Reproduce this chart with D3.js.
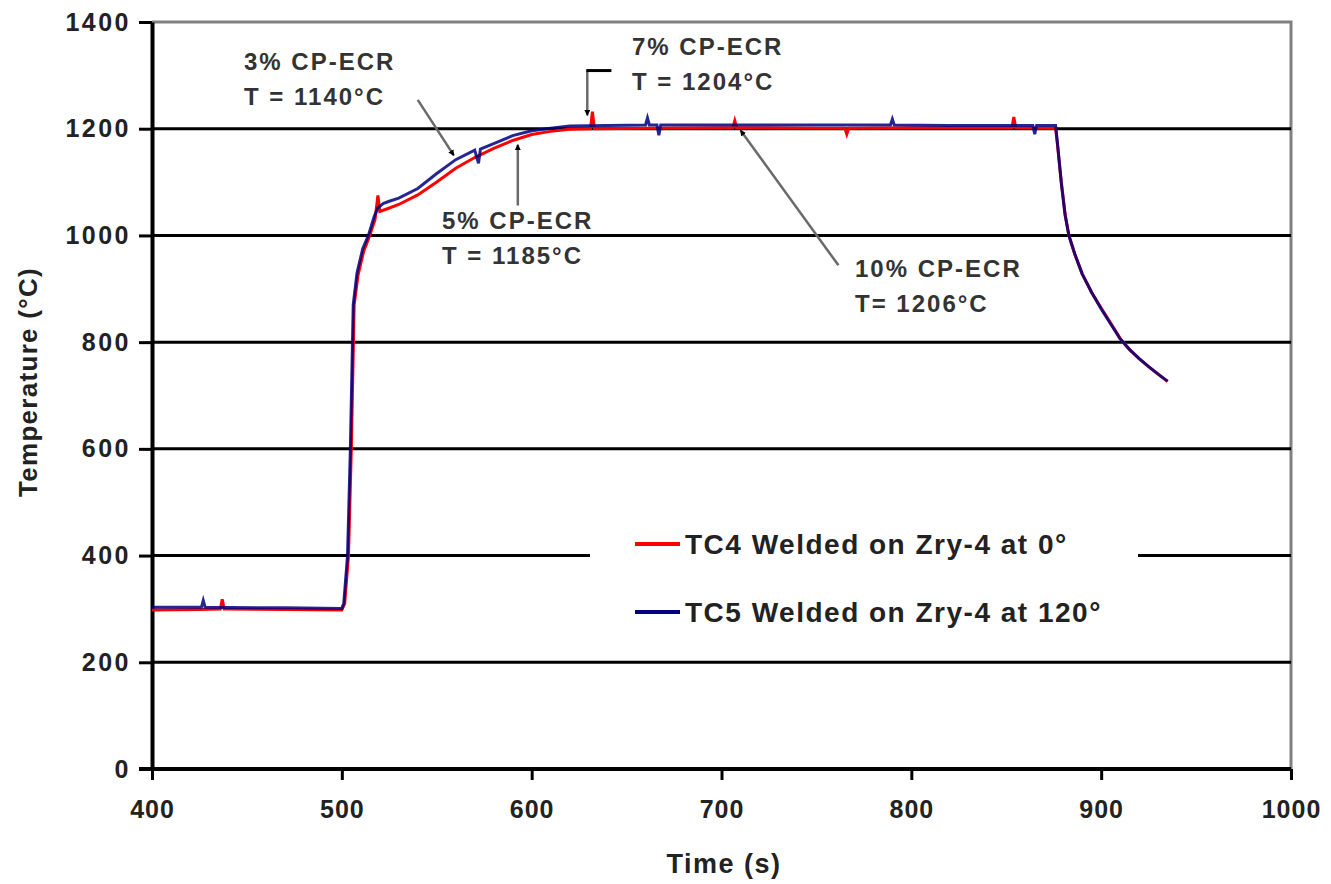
<!DOCTYPE html>
<html>
<head>
<meta charset="utf-8">
<script src="https://cdn.jsdelivr.net/npm/d3@7"></script>
<style>
	body { margin: 0; background: #fff; }
	text { font-family: 'Liberation Sans', Arial, sans-serif; }
</style>
</head>
<body>
<script>
// data (time in s, temperature in degC)
const tc4Time = [400, 425, 436, 437, 438, 470, 500, 501.5, 503.5, 505, 506.5, 508.5, 511.5, 514.5, 517.5, 519, 520, 524, 530, 540, 550, 560, 570, 580, 590, 600, 610, 620, 631, 632, 633, 660, 700, 706, 707, 708, 750, 765, 766, 767, 800, 853, 854, 855, 870, 876, 877, 879, 881, 883, 886, 890, 895, 900, 905, 910, 915, 920, 925, 930, 935]
const tc4Temp = [298, 299, 300, 318, 300, 299, 298, 310, 400, 600, 870, 925, 970, 998, 1030, 1075, 1045, 1050, 1058, 1076, 1100, 1126, 1146, 1163, 1178, 1189, 1195, 1199, 1200, 1232, 1200, 1201, 1202, 1202, 1215, 1202, 1201, 1201, 1190, 1201, 1202, 1202, 1222, 1202, 1201, 1201, 1170, 1100, 1040, 1000, 966, 928, 893, 864, 836, 807, 786, 769, 754, 740, 726]

const tc5Time = [400, 426, 427, 428, 470, 500, 501, 503, 504.5, 506, 508, 511, 514, 517, 519, 522, 525, 530, 540, 550, 560, 570, 572, 573, 580, 590, 600, 610, 620, 640, 660, 661, 662, 666, 667, 668, 700, 789, 790, 791, 820, 864, 865, 866, 876, 877, 879, 881, 883, 886, 890, 895, 900, 905, 910, 915, 920, 925, 930, 935]
const tc5Temp = [303, 303, 316, 303, 302, 301, 310, 400, 600, 870, 930, 975, 1000, 1035, 1052, 1060, 1064, 1070, 1088, 1116, 1142, 1160, 1135, 1162, 1172, 1187, 1196, 1201, 1205, 1206, 1207, 1220, 1207, 1207, 1188, 1207, 1207, 1207, 1218, 1207, 1206, 1206, 1190, 1206, 1206, 1172, 1098, 1038, 1000, 966, 928, 893, 862, 834, 806, 786, 769, 754, 740, 727]

const xTicks = [400, 500, 600, 700, 800, 900, 1000]
const yTicks = [0, 200, 400, 600, 800, 1000, 1200, 1400]
const gridTemps = [200, 400, 600, 800, 1000, 1200]

const seriesNames = ['TC4 Welded on Zry-4 at 0°', 'TC5 Welded on Zry-4 at 120°']
const seriesColors = ['#ff0000', '#000080']

const noteTitles = ['3% CP-ECR', '5% CP-ECR', '7% CP-ECR', '10% CP-ECR']
const noteTemps = ['T = 1140°C', 'T = 1185°C', 'T = 1204°C', 'T= 1206°C']

const width = 1331
const height = 884

const svg = d3
	.select('body')
	.append('svg')
	.attr('width', width)
	.attr('height', height)

svg.append('rect').attr('width', width).attr('height', height).attr('fill', '#fff')

// scales
const xscale = d3.scaleLinear().domain([400, 1000]).range([152, 1291])
const yscale = d3.scaleLinear().domain([0, 1400]).range([769, 22])

// grey frame at top and right
svg.append('path')
	.attr('d', `M${xscale(400)},${yscale(1400)}H${xscale(1000)}V${yscale(0)}`)
	.attr('fill', 'none')
	.attr('stroke', '#808080')
	.attr('stroke-width', 3)

// horizontal gridlines
svg.append('g')
	.selectAll('line')
	.data(gridTemps)
	.join('line')
	.attr('x1', xscale(400))
	.attr('x2', xscale(1000))
	.attr('y1', d => yscale(d))
	.attr('y2', d => yscale(d))
	.attr('stroke', '#000')
	.attr('stroke-width', 3)

// axes
const yaxis = d3.axisLeft(yscale).tickValues(yTicks).tickFormat(d3.format('d')).tickSize(13).tickSizeOuter(0).tickPadding(11)
const g_yaxis = svg.append('g').attr('transform', `translate(${xscale(400)},0)`).call(yaxis)

const xaxis = d3.axisBottom(xscale).tickValues(xTicks).tickFormat(d3.format('d')).tickSize(11).tickSizeOuter(0).tickPadding(20)
const g_xaxis = svg.append('g').attr('transform', `translate(0,${yscale(0)})`).call(xaxis)

g_yaxis.select('.domain').attr('stroke-width', 4)
g_xaxis.select('.domain').attr('stroke-width', 4).attr('d', `M${xscale(400) - 13},0H${xscale(1000)}`)
svg.selectAll('.tick line').attr('stroke-width', 3)

g_yaxis.selectAll('text')
	.attr('font-size', 25)
	.attr('font-weight', 'bold')
	.attr('letter-spacing', 2.5)
	.attr('fill', '#222')
	.attr('x', -21)
g_xaxis.selectAll('text')
	.attr('font-size', 25)
	.attr('font-weight', 'bold')
	.attr('letter-spacing', 1)
	.attr('fill', '#222')

// axis titles
svg.append('text')
	.attr('transform', 'translate(37,382) rotate(-90)')
	.attr('text-anchor', 'middle')
	.attr('font-size', 26)
	.attr('font-weight', 'bold')
	.attr('letter-spacing', 1.3)
	.attr('fill', '#222')
	.text('Temperature (°C)')

svg.append('text')
	.attr('x', 724)
	.attr('y', 873)
	.attr('text-anchor', 'middle')
	.attr('font-size', 27)
	.attr('font-weight', 'bold')
	.attr('letter-spacing', 1.5)
	.attr('fill', '#222')
	.text('Time (s)')

// the two thermocouple traces
const line = d3.line().x(d => xscale(d[0])).y(d => yscale(d[1]))
const series = [d3.zip(tc4Time, tc4Temp), d3.zip(tc5Time, tc5Temp)]

svg.append('g')
	.selectAll('path')
	.data(series)
	.join('path')
	.attr('d', line)
	.attr('fill', 'none')
	.attr('stroke', (d, i) => seriesColors[i])
	.attr('stroke-width', 3)
	.attr('stroke-opacity', (d, i) => (i === 1 ? 0.85 : 1))

// arrow heads for the annotation leaders
const defs = svg.append('defs')
defs.append('marker')
	.attr('id', 'head')
	.attr('viewBox', '0 0 10 10')
	.attr('refX', 9)
	.attr('refY', 5)
	.attr('markerWidth', 6)
	.attr('markerHeight', 6)
	.attr('markerUnits', 'userSpaceOnUse')
	.attr('orient', 'auto')
	.append('path')
	.attr('d', 'M0,0L10,5L0,10z')
	.attr('fill', '#000')

const leaders = svg.append('g').attr('stroke', '#6a6a6a').attr('stroke-width', 2.5)

// 3%
leaders.append('line')
	.attr('x1', xscale(540)).attr('y1', yscale(1254))
	.attr('x2', xscale(559)).attr('y2', yscale(1150))
	.attr('marker-end', 'url(#head)')
// 5%
leaders.append('line')
	.attr('x1', xscale(592.7)).attr('y1', yscale(1056))
	.attr('x2', xscale(592.7)).attr('y2', yscale(1170))
	.attr('marker-end', 'url(#head)')
// 7%
leaders.append('line')
	.attr('x1', xscale(629.3)).attr('y1', yscale(1309))
	.attr('x2', xscale(629.3)).attr('y2', yscale(1225))
	.attr('marker-end', 'url(#head)')
leaders.append('line')
	.attr('x1', xscale(629.3) - 1).attr('y1', yscale(1309))
	.attr('x2', xscale(642)).attr('y2', yscale(1309))
	.attr('stroke', '#000')
	.attr('stroke-width', 3)
// 10%
leaders.append('line')
	.attr('x1', xscale(761.6)).attr('y1', yscale(944))
	.attr('x2', xscale(710)).attr('y2', yscale(1197))
	.attr('marker-end', 'url(#head)')

// annotation labels
const notePos = [[244, 62], [442, 221], [632, 47], [855, 269]]
const notes = svg.append('g')
	.attr('font-size', 24)
	.attr('font-weight', 'bold')
	.attr('letter-spacing', 2)
	.attr('fill', '#333')

noteTitles.forEach((t, i) => {
	notes.append('text')
		.attr('x', notePos[i][0])
		.attr('y', notePos[i][1])
		.attr('dy', '0.35em')
		.text(t)
	notes.append('text')
		.attr('x', notePos[i][0])
		.attr('y', notePos[i][1] + 35)
		.attr('dy', '0.35em')
		.text(noteTemps[i])
})

// legend, with a white box that breaks the 400 gridline
const legend = svg.append('g')
legend.append('rect')
	.attr('x', 590)
	.attr('y', 512)
	.attr('width', 548)
	.attr('height', 130)
	.attr('fill', '#fff')

const legendRows = legend.selectAll('g')
	.data(seriesNames)
	.join('g')
	.attr('transform', (d, i) => `translate(635,${544 + i * 68})`)

legendRows.append('line')
	.attr('x1', 0)
	.attr('x2', 45)
	.attr('stroke', (d, i) => seriesColors[i])
	.attr('stroke-width', 4)

legendRows.append('text')
	.attr('x', 50)
	.attr('dy', '0.35em')
	.attr('font-size', 28)
	.attr('font-weight', 'bold')
	.attr('letter-spacing', 1.5)
	.attr('fill', '#222')
	.text(d => d)
</script>
</body>
</html>
